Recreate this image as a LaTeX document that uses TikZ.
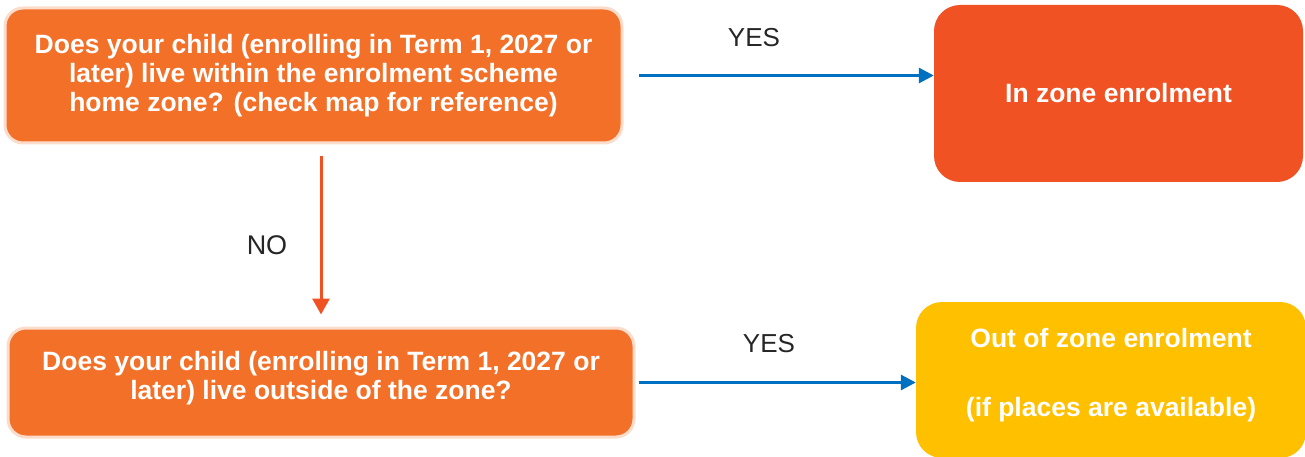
\documentclass[tikz,border=0pt]{standalone}
\usepackage{fontspec}
\setmainfont{Liberation Sans}
\usetikzlibrary{arrows.meta}
\definecolor{qorange}{HTML}{F37029}
\definecolor{qrim}{HTML}{FBDCCB}
\definecolor{inred}{HTML}{F05223}
\definecolor{outgold}{HTML}{FFC000}
\definecolor{yesblue}{HTML}{0070C0}
\begin{document}
\begin{tikzpicture}[x=1pt,y=-1pt,
  question/.style={draw=qrim, line width=3pt, fill=qorange, rounded corners=18pt, text=white,
    align=center, font=\bfseries\fontsize{26.5}{29}\selectfont, inner sep=0pt},
  outcome/.style={fill=#1, rounded corners=26pt, text=white,
    align=center, font=\bfseries\fontsize{26.5}{29}\selectfont, inner sep=0pt},
  yesarrow/.style={draw=yesblue, line width=3pt, -{Triangle[length=15pt,width=15pt]}},
  noarrow/.style={draw=inred, line width=3pt, -{Triangle[length=16pt,width=17pt]}},
  answer/.style={font=\fontsize{26}{30}\selectfont, text=black!85}]
\useasboundingbox (0,0) rectangle (1305,457);

\node[question, minimum width=617pt, minimum height=135pt] (q1) at (313.5,75.5)
  {Does your child (enrolling in Term 1, 2027 or\\ later) live within the enrolment scheme\\ home zone? (check map for reference)};
\node[outcome=inred, minimum width=369pt, minimum height=177pt] (inzone) at (1118.5,93.5)
  {In zone enrolment};
\node[question, minimum width=626pt, minimum height=109pt, text depth=15pt] (q2) at (321,382.5)
  {Does your child (enrolling in Term 1, 2027 or\\ later) live outside of the zone?};
\node[outcome=outgold, minimum width=390pt, minimum height=156pt, text depth=15pt] (outzone) at (1111,380)
  {Out of zone enrolment\\[40pt] (if places are available)};

\path[yesarrow, shorten <=15pt] (q1.east) -- (q1.east -| inzone.west);
\path[yesarrow, shorten <=3pt] (q2.east) -- (q2.east -| outzone.west);
\path[noarrow, shorten <=12pt, shorten >=12pt] (q1.south -| q2.north) -- (q2.north);

\node[answer] (yes1) at (754,38) {YES};
\node[answer] (yes2) at (769,344) {YES};
\node[answer, font=\fontsize{27}{30}\selectfont] (no) at (267,245) {NO};
\end{tikzpicture}
\end{document}
